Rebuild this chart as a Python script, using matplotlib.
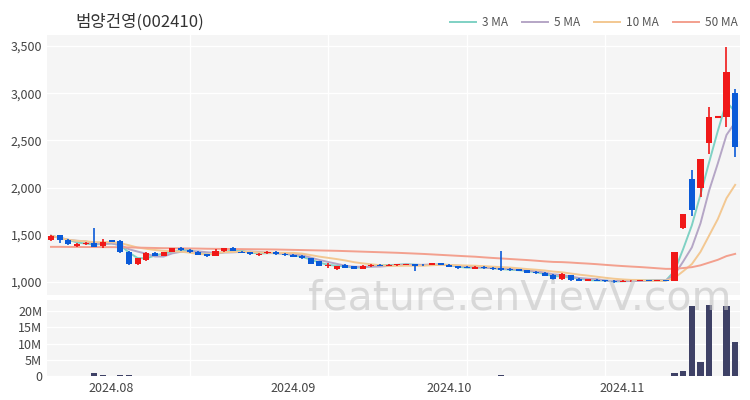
import numpy as np
import pandas as pd
import matplotlib
matplotlib.use("Agg")
import matplotlib.pyplot as plt

plt.rcParams['font.family'] = ['Noto Sans CJK KR', 'DejaVu Sans']

title = "범양건영(002410)"
holidays = ["2024-08-15", "2024-09-16", "2024-09-17", "2024-09-18",
            "2024-10-01", "2024-10-03", "2024-10-09"]
dates = pd.bdate_range("2024-07-23", "2024-11-20")
dates = dates[~dates.isin(pd.to_datetime(holidays))]

opens = [1440, 1495, 1445, 1385, 1400, 1415, 1380, 1440, 1430, 1320,
         1190, 1230, 1310, 1275, 1320, 1365, 1340, 1320, 1295, 1275,
         1325, 1360, 1320, 1315, 1285, 1305, 1320, 1300, 1290, 1280,
         1250, 1220, 1170, 1140, 1185, 1165, 1140, 1165, 1185, 1170,
         1175, 1180, 1190, 1185, 1180, 1200, 1185, 1165, 1160, 1140,
         1160, 1150, 1145, 1140, 1135, 1125, 1110, 1100, 1075, 1030,
         1070, 1035, 1010, 1025, 1020, 1015, 1000, 1005, 1010, 1020,
         1010, 1020, 1010, 1570, 2090, 2000, 2470, 2750, 2750, 3000]
closes = [1490, 1445, 1405, 1405, 1410, 1375, 1425, 1425, 1320, 1190,
          1250, 1310, 1280, 1315, 1360, 1335, 1320, 1290, 1270, 1325,
          1355, 1330, 1310, 1295, 1300, 1320, 1295, 1285, 1265, 1250,
          1195, 1170, 1180, 1165, 1150, 1140, 1170, 1185, 1170, 1185,
          1190, 1190, 1170, 1175, 1200, 1180, 1160, 1145, 1150, 1160,
          1145, 1135, 1130, 1125, 1120, 1100, 1090, 1065, 1030, 1085,
          1020, 1010, 1030, 1010, 1005, 1000, 1015, 1015, 1020, 1015,
          1020, 1010, 1320, 1720, 1760, 2300, 2750, 2750, 3225, 2430]
highs = [1500, 1500, 1450, 1410, 1420, 1575, 1450, 1445, 1440, 1330,
         1255, 1315, 1315, 1320, 1365, 1370, 1345, 1325, 1300, 1345,
         1360, 1375, 1325, 1320, 1305, 1325, 1325, 1305, 1300, 1285,
         1250, 1225, 1200, 1170, 1190, 1170, 1175, 1190, 1190, 1190,
         1195, 1195, 1195, 1190, 1205, 1205, 1190, 1170, 1165, 1165,
         1165, 1155, 1330, 1145, 1140, 1130, 1115, 1105, 1080, 1090,
         1075, 1040, 1035, 1030, 1025, 1020, 1020, 1020, 1025, 1025,
         1025, 1025, 1320, 1720, 2190, 2300, 2850, 2750, 3490, 3040]
lows = [1430, 1415, 1395, 1370, 1395, 1370, 1355, 1420, 1310, 1185,
        1180, 1225, 1275, 1270, 1315, 1330, 1310, 1285, 1265, 1270,
        1320, 1325, 1305, 1290, 1280, 1300, 1290, 1280, 1260, 1245,
        1190, 1165, 1150, 1125, 1145, 1135, 1135, 1160, 1165, 1165,
        1170, 1175, 1115, 1170, 1175, 1175, 1155, 1140, 1145, 1135,
        1140, 1130, 1120, 1120, 1115, 1095, 1085, 1060, 1025, 1025,
        1005, 1005, 1005, 1005, 1000, 990, 995, 1000, 1005, 1010,
        1005, 1005, 1005, 1560, 1700, 1900, 2355, 2750, 2640, 2320]
volumes = [0.15, 0.12, 0.10, 0.08, 0.10, 0.95, 0.30, 0.15, 0.20, 0.25,
           0.15, 0.12, 0.08, 0.08, 0.10, 0.08, 0.06, 0.06, 0.06, 0.08,
           0.08, 0.07, 0.05, 0.05, 0.05, 0.06, 0.05, 0.05, 0.05, 0.06,
           0.07, 0.08, 0.06, 0.06, 0.05, 0.05, 0.05, 0.05, 0.04, 0.04,
           0.04, 0.04, 0.08, 0.04, 0.05, 0.04, 0.04, 0.04, 0.04, 0.04,
           0.04, 0.05, 0.45, 0.08, 0.05, 0.05, 0.05, 0.06, 0.07, 0.07,
           0.06, 0.05, 0.05, 0.04, 0.04, 0.05, 0.04, 0.04, 0.04, 0.04,
           0.04, 0.05, 1.0, 1.5, 21.5, 4.2, 22.0, 0.1, 21.5, 10.5]
# 50 MA before 50 sessions of history are available
ma50_early = [1372, 1372, 1371, 1371, 1370, 1370, 1369, 1369, 1368, 1366,
              1364, 1362, 1360, 1358, 1357, 1356, 1355, 1354, 1352, 1351,
              1350, 1349, 1348, 1347, 1346, 1345, 1344, 1342, 1340, 1338,
              1336, 1334, 1332, 1330, 1327, 1324, 1321, 1318, 1315, 1312,
              1309, 1305, 1301, 1297, 1292, 1287, 1282, 1277, 1272]

ma_colors = {"3 MA": "#7fd1c4", "5 MA": "#b5a6c6", "10 MA": "#f3c892", "50 MA": "#f3a08e"}
up_col = "#f01818"
down_col = "#0a5ad8"

df = pd.DataFrame({"open": opens, "close": closes, "high": highs, "low": lows,
                   "vol": np.array(volumes) * 1e6}, index=dates)
close_s = df["close"]
ma = {
    "3 MA": close_s.rolling(3, min_periods=1).mean().values,
    "5 MA": close_s.rolling(5, min_periods=1).mean().values,
    "10 MA": close_s.rolling(10, min_periods=1).mean().values,
}
ma50 = close_s.rolling(50).mean().values
ma50[:len(ma50_early)] = ma50_early
ma["50 MA"] = ma50

x = np.arange(len(df))

fig = plt.figure(figsize=(7.5, 4), dpi=100)
ax = fig.add_axes([47/750, 1-295/400, 693/750, 260/400])
axv = fig.add_axes([47/750, 1-376/400, 693/750, 76/400], sharex=ax)

for a in (ax, axv):
    a.set_facecolor("#f5f5f5")
    for s in a.spines.values():
        s.set_visible(False)
    a.tick_params(length=0, labelsize=9, colors="#444444")
    a.set_axisbelow(True)
    for gx in (16, 32, 48, 64):
        a.axvline(gx, color="white", lw=1, zorder=0)

# moving averages
for name, vals in ma.items():
    ax.plot(x, vals, color=ma_colors[name], lw=1.4, label=name, zorder=2)

# candles
w = 0.7
for i in x:
    o, c, h, l = df["open"].iloc[i], df["close"].iloc[i], df["high"].iloc[i], df["low"].iloc[i]
    col = up_col if c >= o else down_col
    ax.vlines(i, l, h, color=col, lw=1.2, zorder=3)
    if o == c:
        ax.hlines(o, i - w/2, i + w/2, color=col, lw=1.5, linestyles="--", zorder=3)
    else:
        ax.bar(i, abs(c - o), bottom=min(o, c), width=w, color=col, zorder=3)

ax.set_ylim(862, 3616)
ax.set_yticks([1000, 1500, 2000, 2500, 3000, 3500])
ax.set_yticklabels([f"{v:,}" for v in [1000, 1500, 2000, 2500, 3000, 3500]])
ax.yaxis.grid(True, color="white", lw=1)
ax.set_xlim(-0.46, 79.56)
plt.setp(ax.get_xticklabels(), visible=False)

axv.bar(x, df["vol"], width=0.7, color="#3e4166", zorder=3)
axv.set_ylim(0, 23.4e6)
axv.set_yticks([0, 5e6, 10e6, 15e6, 20e6])
axv.set_yticklabels(["0", "5M", "10M", "15M", "20M"])
axv.yaxis.grid(True, color="white", lw=1)

month_first = [i for i in range(len(df)) if i == 0 or df.index[i].month != df.index[i-1].month][1:]
axv.set_xticks(month_first)
axv.set_xticklabels([df.index[i].strftime("%Y.%m") for i in month_first])
axv.tick_params(axis="x", pad=4)

fig.text(75/750, 1-22/400, title, fontsize=12, color="#333333", va="center")
fig.legend(loc="center right", bbox_to_anchor=(748/750, 1-23/400), ncol=4, frameon=False,
           fontsize=8.5, handlelength=2.2, columnspacing=1.2, handletextpad=0.5,
           labelcolor="#555555")

fig.text(520/750, 1-298/400, "feature.enVievV.com", fontsize=29.5, color="#c4c4c4",
         alpha=0.6, ha="center", va="center", family="DejaVu Sans", zorder=1)

fig.savefig("out.png", dpi=100, facecolor="white")
